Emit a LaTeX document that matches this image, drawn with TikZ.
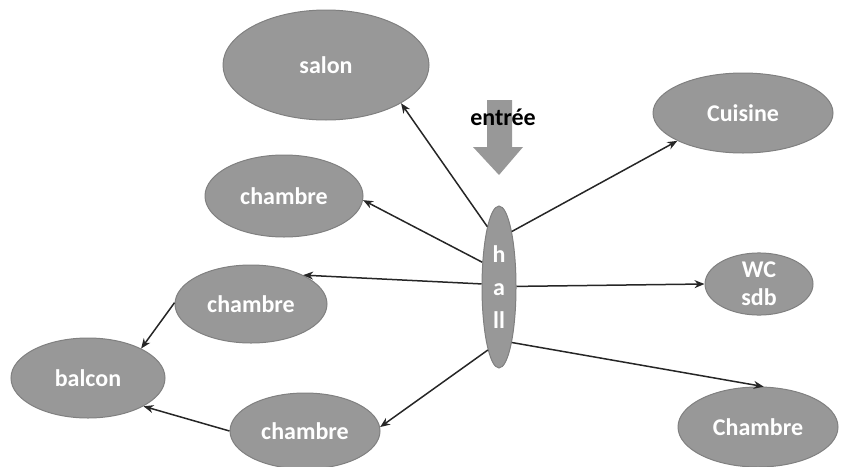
\documentclass[tikz,border=0pt]{standalone}
\usepackage{fontspec}
\setmainfont{Carlito}
\usetikzlibrary{shapes.geometric,arrows.meta}
\definecolor{roomfill}{RGB}{152,152,152}
\definecolor{roomline}{RGB}{128,128,128}
\begin{document}
\begin{tikzpicture}[x=0.5pt, y=-0.5pt,
  room/.style={ellipse, fill=roomfill, draw=roomline, line width=0.5pt, inner sep=0pt,
    text=white, font=\fontsize{12}{14}\selectfont\bfseries, align=center},
  link/.style={-{Stealth[length=5pt,width=4pt]}, line width=0.75pt, black!85}]

\useasboundingbox (0,0) rectangle (849,466);

% Rooms
\node[room, minimum width=103pt, minimum height=55pt] (salon) at (326,65) {salon};
\node[room, minimum width=79pt, minimum height=41pt] (ch1) at (284,196) {chambre};
\node[room, minimum width=76pt, minimum height=39pt] (ch2) at (251,304) {chambre};
\node[room, minimum width=77pt, minimum height=40pt] (balcon) at (88,378) {balcon};
\node[room, minimum width=75pt, minimum height=38pt] (ch3) at (305,431) {chambre};
\node[room, minimum width=90pt, minimum height=40pt] (cuisine) at (743,113) {Cuisine};
\node[room, minimum width=54pt, minimum height=29pt] (wc) at (759,284) {WC\\sdb};
\node[room, minimum width=80pt, minimum height=40pt] (ch4) at (758,427) {Chambre};

% Hall
\node[room, minimum width=17pt, minimum height=81pt,
  font=\fontsize{12}{16.5}\selectfont\bfseries] (hall) at (499,287) {h\\a\\ll};

% Entrance arrow
\fill[roomfill] (487,100) -- (512,100) -- (512,147) -- (523,147) -- (499,175)
  -- (473,147) -- (487,147) -- cycle;
\node[font=\fontsize{12}{14}\selectfont\bfseries] (entree) at (503,117) {entrée};

% Links from the hall
\draw[link] (hall.101) -- (salon.-27);
\draw[link] (hall.124) -- (ch1.-3);
\draw[link] (hall.170) -- (ch2.29);
\draw[link] (hall.260) -- (ch3.3);
\draw[link] (hall.77) -- (cuisine.203);
\draw[link] (hall.2) -- (wc.180);
\draw[link] (hall.283) -- (ch4.82);

% Links to the balcony
\draw[link] (ch2.179) -- (balcon.29);
\draw[link] (ch3.180) -- (balcon.-27);

\end{tikzpicture}
\end{document}
